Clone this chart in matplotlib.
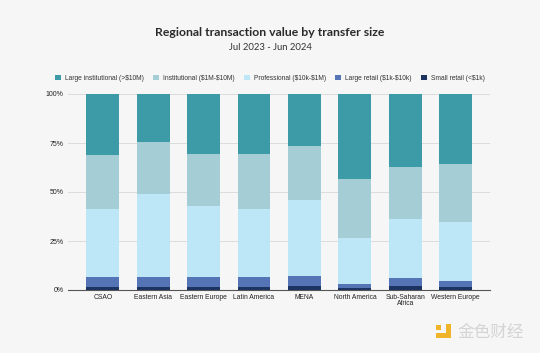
import matplotlib
matplotlib.use("Agg")
import matplotlib.pyplot as plt
import numpy as np
from matplotlib.ticker import FuncFormatter

regions = ["CSAO", "Eastern Asia", "Eastern Europe", "Latin America", "MENA",
           "North America", "Sub-Saharan\nAfrica", "Western Europe"]
series_names = ["Small retail (<\\$1k)", "Large retail (\\$1k-\\$10k)", "Professional (\\$10k-\\$1M)",
                "Institutional (\\$1M-\\$10M)", "Large institutional (>\\$10M)"]
small_retail = [1.7, 1.5, 1.5, 1.5, 1.9, 0.9, 1.9, 1.4]
large_retail = [4.8, 5.0, 5.3, 5.0, 5.4, 2.2, 4.4, 3.2]
professional = [34.8, 42.5, 36.2, 34.8, 38.6, 23.6, 29.9, 30.1]
institutional = [27.6, 26.7, 26.4, 27.9, 27.6, 29.8, 26.7, 29.4]
large_institutional = [31.1, 24.3, 30.6, 30.8, 26.5, 43.5, 37.1, 35.9]
colors = ["#1d3463", "#5574b5", "#bde6f6", "#a5cdd5", "#3d9ba7"]

plt.rcParams["font.family"] = ["Liberation Sans", "DejaVu Sans"]
bg = "#f6f6f6"
fig = plt.figure(figsize=(5.4, 3.53), dpi=100, facecolor=bg)
ax = fig.add_axes([68/540, 1-290/353, (490-68)/540, (290-94)/353], facecolor=bg)

x = np.arange(len(regions))
data = [small_retail, large_retail, professional, institutional, large_institutional]
bottom = np.zeros(len(regions))
handles = []
for vals, name, c in zip(data, series_names, colors):
    b = ax.bar(x, vals, 0.65, bottom=bottom, color=c, label=name, zorder=3)
    handles.append(b)
    bottom += np.array(vals)

ax.set_xlim(-0.69, len(regions) - 1 + 0.68)
ax.set_ylim(0, 100)
ax.set_yticks([0, 25, 50, 75, 100])
ax.yaxis.set_major_formatter(FuncFormatter(lambda v, p: f"{int(v)}%"))
ax.grid(axis="y", color="#dcdcdc", linewidth=0.7, zorder=0)
for s in ["top", "right", "left"]:
    ax.spines[s].set_visible(False)
ax.spines["bottom"].set_color("#555555")
ax.spines["bottom"].set_linewidth(0.8)
ax.set_xticks(x)
ax.set_xticklabels(regions, fontsize=4.9, color="#222222", linespacing=0.85)
ax.tick_params(axis="x", length=0, pad=3)
ax.tick_params(axis="y", length=0, labelsize=5.0, labelcolor="#222222", pad=3)

fig.text(0.5, 1-33/353, "Regional transaction value by transfer size", ha="center", va="center",
         fontsize=8.8, fontweight="bold", color="#2a2a2a", family=["Lato", "DejaVu Sans"])
fig.text(0.5, 1-47/353, "Jul 2023 - Jun 2024", ha="center", va="center",
         fontsize=6.8, color="#333333", family=["Lato", "DejaVu Sans"])

leg = fig.legend(handles[::-1], series_names[::-1], loc="center", bbox_to_anchor=(0.5, 1-78.5/353),
                 ncol=5, frameon=False, fontsize=4.8, handlelength=0.9, handleheight=0.9,
                 columnspacing=1.4, handletextpad=0.6)
for t in leg.get_texts():
    t.set_color("#333333")

fig.text(458/540, 1-332/353, "金色财经", ha="left", va="center", fontsize=12,
         color="#d4d4d4", family=["Noto Sans CJK SC", "DejaVu Sans"])
logo = "#f0b429"
for (x0, y0, w, h) in [(436, 325, 5, 5), (446, 324, 5, 14), (436, 333, 15, 5)]:
    fig.patches.append(plt.Rectangle((x0/540, 1-(y0+h)/353), w/540, h/353, transform=fig.transFigure,
                                     facecolor=logo, edgecolor="none"))

fig.savefig("out.png", dpi=100, facecolor=bg)
